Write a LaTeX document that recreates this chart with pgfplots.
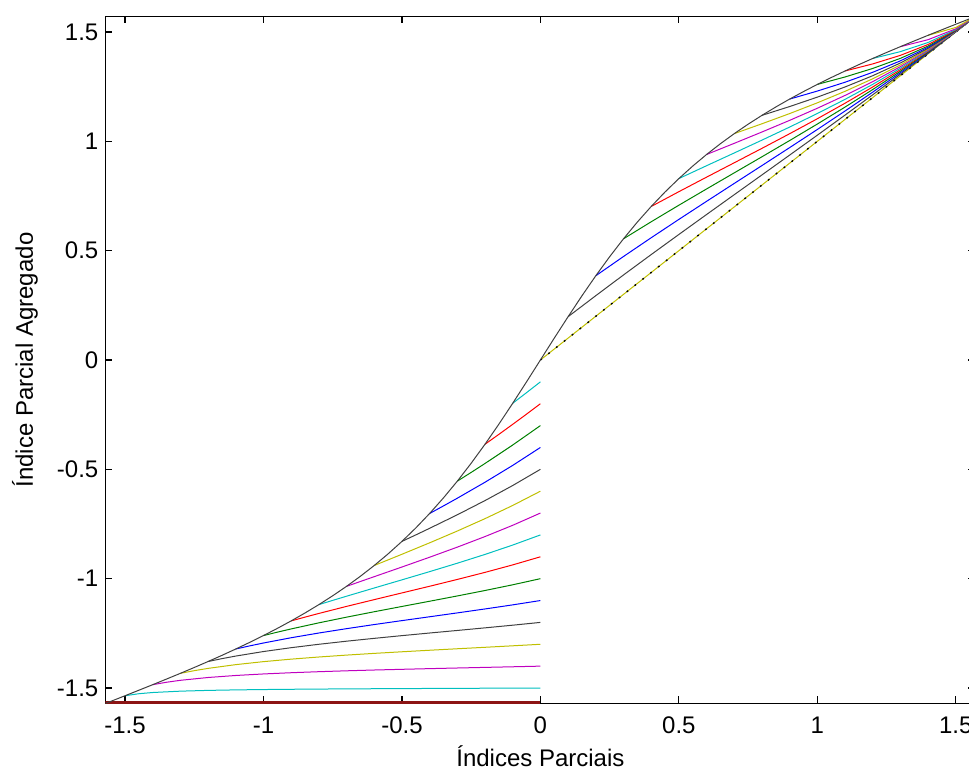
\documentclass[border=0pt]{standalone}
\usepackage{fontspec}
\setmainfont{Liberation Sans}
\usepackage{pgfplots}
\pgfplotsset{compat=1.18}
\usetikzlibrary{calc}
% MATLAB default line colours
\definecolor{mb}{rgb}{0,0,1}
\definecolor{mg}{rgb}{0,0.5,0}
\definecolor{mr}{rgb}{1,0,0}
\definecolor{mc}{rgb}{0,0.75,0.75}
\definecolor{mm}{rgb}{0.75,0,0.75}
\definecolor{my}{rgb}{0.75,0.75,0}
\definecolor{mk}{rgb}{0.25,0.25,0.25}
\definecolor{mdr}{rgb}{0.55,0.08,0.08}
\begin{document}
\begin{tikzpicture}
\begin{axis}[
  scale only axis, width=435pt, height=343.5pt,
  xmin=-1.5708, xmax=1.5708, ymin=-1.5708, ymax=1.5708,
  xtick={-1.5,-1,-0.5,0,0.5,1,1.5},
  ytick={-1.5,-1,-0.5,0,0.5,1,1.5},
  tick align=inside, major tick length=3.5pt,
  tick style={black, line width=0.6pt},
  axis line style={line width=0.8pt},
  /pgf/number format/assume math mode=true,
  ticklabel style={font=\fontsize{12}{14}\selectfont},
  xticklabel style={yshift=-3pt},
  xlabel={Índices Parciais},
  ylabel={Índice Parcial Agregado},
  label style={font=\fontsize{12}{14}\selectfont},
  xlabel style={at={(axis description cs:0.5,-0.0764)}, anchor=center},
  ylabel style={at={(axis description cs:-0.0924,0.5)}, anchor=center},
  no markers,
  every axis plot/.append style={line width=0.5pt},
]
% left family (end values -pi/2 ... -0.1)
\addplot[mdr, line width=2.5pt] coordinates {(-1.5708,-1.5708) (0,-1.5708)};
\addplot[mc] coordinates {(-1.5,-1.5354) (-1.45,-1.5261) (-1.4,-1.5206) (-1.3,-1.5144) (-1.2,-1.5109) (-1.1,-1.5086) (-1,-1.507) (-0.9,-1.5058) (-0.8,-1.5048) (-0.7,-1.504) (-0.6,-1.5033) (-0.5,-1.5026) (-0.4,-1.5021) (-0.3,-1.5015) (-0.2,-1.501) (-0.1,-1.5005) (0,-1.5)};
\addplot[mm] coordinates {(-1.4,-1.4848) (-1.35,-1.4736) (-1.3,-1.4648) (-1.2,-1.4519) (-1.1,-1.4427) (-1,-1.4357) (-0.9,-1.4301) (-0.8,-1.4254) (-0.7,-1.4213) (-0.6,-1.4177) (-0.5,-1.4145) (-0.4,-1.4114) (-0.3,-1.4085) (-0.2,-1.4057) (-0.1,-1.4029) (0,-1.4)};
\addplot[my] coordinates {(-1.3,-1.4329) (-1.25,-1.4207) (-1.2,-1.4102) (-1.1,-1.3931) (-1,-1.3794) (-0.9,-1.368) (-0.8,-1.3582) (-0.7,-1.3495) (-0.6,-1.3416) (-0.5,-1.3343) (-0.4,-1.3273) (-0.3,-1.3205) (-0.2,-1.3138) (-0.1,-1.307) (0,-1.3)};
\addplot[mk] coordinates {(-1.2,-1.3788) (-1.15,-1.3657) (-1.1,-1.3539) (-1,-1.3332) (-0.9,-1.3156) (-0.8,-1.3) (-0.7,-1.2859) (-0.6,-1.2729) (-0.5,-1.2605) (-0.4,-1.2485) (-0.3,-1.2368) (-0.2,-1.2249) (-0.1,-1.2127) (0,-1.2)};
\addplot[mb] coordinates {(-1.1,-1.3216) (-1.05,-1.3074) (-1,-1.2942) (-0.9,-1.2701) (-0.8,-1.2485) (-0.7,-1.2286) (-0.6,-1.2098) (-0.5,-1.1918) (-0.4,-1.1742) (-0.3,-1.1565) (-0.2,-1.1385) (-0.1,-1.1198) (0,-1.1)};
\addplot[mg] coordinates {(-1,-1.2602) (-0.95,-1.2446) (-0.9,-1.2298) (-0.8,-1.202) (-0.7,-1.176) (-0.6,-1.1512) (-0.5,-1.1271) (-0.4,-1.1032) (-0.3,-1.079) (-0.2,-1.0541) (-0.1,-1.028) (0,-1)};
\addplot[mr] coordinates {(-0.9,-1.1931) (-0.85,-1.1758) (-0.8,-1.159) (-0.7,-1.1268) (-0.6,-1.0958) (-0.5,-1.0652) (-0.4,-1.0347) (-0.3,-1.0035) (-0.2,-0.9712) (-0.1,-0.937) (0,-0.9)};
\addplot[mc] coordinates {(-0.8,-1.1187) (-0.75,-1.0993) (-0.7,-1.0802) (-0.6,-1.0426) (-0.5,-1.0054) (-0.4,-0.9678) (-0.3,-0.9293) (-0.2,-0.8891) (-0.1,-0.8463) (0,-0.8)};
\addplot[mm] coordinates {(-0.7,-1.0351) (-0.65,-1.0129) (-0.6,-0.9908) (-0.5,-0.9467) (-0.4,-0.9019) (-0.3,-0.8558) (-0.2,-0.8074) (-0.1,-0.7559) (0,-0.7)};
\addplot[my] coordinates {(-0.6,-0.9397) (-0.55,-0.9141) (-0.5,-0.8884) (-0.4,-0.8361) (-0.3,-0.7821) (-0.2,-0.7255) (-0.1,-0.6652) (0,-0.6)};
\addplot[mk] coordinates {(-0.5,-0.8296) (-0.45,-0.7999) (-0.4,-0.7697) (-0.3,-0.7078) (-0.2,-0.6429) (-0.1,-0.574) (0,-0.5)};
\addplot[mb] coordinates {(-0.4,-0.7019) (-0.35,-0.6673) (-0.3,-0.632) (-0.2,-0.559) (-0.1,-0.482) (0,-0.4)};
\addplot[mg] coordinates {(-0.3,-0.5541) (-0.25,-0.5141) (-0.2,-0.4732) (-0.1,-0.3888) (0,-0.3)};
\addplot[mr] coordinates {(-0.2,-0.3852) (-0.15,-0.3401) (-0.1,-0.2942) (-0.05,-0.2476) (0,-0.2)};
\addplot[mc] coordinates {(-0.1,-0.198) (-0.05,-0.1493) (0,-0.1)};
% right family (start values 0 ... 1.4)
\addplot[my] coordinates {(0,0) (1.5708,1.5708)};
\addplot[black, line width=0.7pt, dash pattern=on 0.9pt off 4.1pt] coordinates {(0,0) (1.5708,1.5708)};
\addplot[mk] coordinates {(0.1,0.198) (0.2,0.2942) (0.3,0.3888) (0.4,0.482) (0.5,0.574) (0.6,0.6652) (0.7,0.7559) (0.8,0.8463) (0.9,0.937) (1,1.028) (1.1,1.1198) (1.2,1.2127) (1.3,1.307) (1.4,1.4029) (1.5,1.5005) (1.5708,1.5708)};
\addplot[mb] coordinates {(0.2,0.3852) (0.3,0.4732) (0.4,0.559) (0.5,0.6429) (0.6,0.7255) (0.7,0.8074) (0.8,0.8891) (0.9,0.9712) (1,1.0541) (1.1,1.1385) (1.2,1.2249) (1.3,1.3138) (1.4,1.4057) (1.5,1.501) (1.5708,1.5708)};
\addplot[mg] coordinates {(0.3,0.5541) (0.4,0.632) (0.5,0.7078) (0.6,0.7821) (0.7,0.8558) (0.8,0.9293) (0.9,1.0035) (1,1.079) (1.1,1.1565) (1.2,1.2368) (1.3,1.3205) (1.4,1.4085) (1.5,1.5015) (1.5708,1.5708)};
\addplot[mr] coordinates {(0.4,0.7019) (0.5,0.7697) (0.6,0.8361) (0.7,0.9019) (0.8,0.9678) (0.9,1.0347) (1,1.1032) (1.1,1.1742) (1.2,1.2485) (1.3,1.3273) (1.4,1.4114) (1.5,1.5021) (1.5708,1.5708)};
\addplot[mc] coordinates {(0.5,0.8296) (0.6,0.8884) (0.7,0.9467) (0.8,1.0054) (0.9,1.0652) (1,1.1271) (1.1,1.1918) (1.2,1.2605) (1.3,1.3343) (1.4,1.4145) (1.5,1.5026) (1.5708,1.5708)};
\addplot[mm] coordinates {(0.6,0.9397) (0.7,0.9908) (0.8,1.0426) (0.9,1.0958) (1,1.1512) (1.1,1.2098) (1.2,1.2729) (1.3,1.3416) (1.4,1.4177) (1.5,1.5033) (1.5708,1.5708)};
\addplot[my] coordinates {(0.7,1.0351) (0.8,1.0802) (0.9,1.1268) (1,1.176) (1.1,1.2286) (1.2,1.2859) (1.3,1.3495) (1.4,1.4213) (1.5,1.504) (1.5708,1.5708)};
\addplot[mk] coordinates {(0.8,1.1187) (0.9,1.159) (1,1.202) (1.1,1.2485) (1.2,1.3) (1.3,1.3582) (1.4,1.4254) (1.5,1.5048) (1.5708,1.5708)};
\addplot[mb] coordinates {(0.9,1.1931) (1,1.2298) (1.1,1.2701) (1.2,1.3156) (1.3,1.368) (1.4,1.4301) (1.5,1.5058) (1.5708,1.5708)};
\addplot[mg] coordinates {(1,1.2602) (1.1,1.2942) (1.2,1.3332) (1.3,1.3794) (1.4,1.4357) (1.5,1.507) (1.5708,1.5708)};
\addplot[mr] coordinates {(1.1,1.3216) (1.2,1.3539) (1.3,1.3931) (1.4,1.4427) (1.5,1.5086) (1.5708,1.5708)};
\addplot[mc] coordinates {(1.2,1.3788) (1.3,1.4102) (1.4,1.4519) (1.5,1.5109) (1.5708,1.5708)};
\addplot[mm] coordinates {(1.3,1.4329) (1.4,1.4648) (1.5,1.5144) (1.5708,1.5708)};
\addplot[my] coordinates {(1.4,1.4848) (1.5,1.5206) (1.5708,1.5708)};
% upper envelope, drawn last
\addplot[mk] coordinates {(-1.5708,-1.5708) (-1.55,-1.5604) (-1.5,-1.5354) (-1.45,-1.5102) (-1.4,-1.4848) (-1.35,-1.459) (-1.3,-1.4329) (-1.25,-1.4062) (-1.2,-1.3788) (-1.15,-1.3507) (-1.1,-1.3216) (-1.05,-1.2915) (-1,-1.2602) (-0.95,-1.2274) (-0.9,-1.1931) (-0.85,-1.1569) (-0.8,-1.1187) (-0.75,-1.0782) (-0.7,-1.0351) (-0.65,-0.989) (-0.6,-0.9397) (-0.55,-0.8867) (-0.5,-0.8296) (-0.45,-0.7682) (-0.4,-0.7019) (-0.35,-0.6306) (-0.3,-0.5541) (-0.25,-0.4722) (-0.2,-0.3852) (-0.15,-0.2935) (-0.1,-0.198) (-0.05,-0.0998) (0,0)
 (0.05,0.0998) (0.1,0.198) (0.15,0.2935) (0.2,0.3852) (0.25,0.4722) (0.3,0.5541) (0.35,0.6306) (0.4,0.7019) (0.45,0.7682) (0.5,0.8296) (0.55,0.8867) (0.6,0.9397) (0.65,0.989) (0.7,1.0351) (0.75,1.0782) (0.8,1.1187) (0.85,1.1569) (0.9,1.1931) (0.95,1.2274) (1,1.2602) (1.05,1.2915) (1.1,1.3216) (1.15,1.3507) (1.2,1.3788) (1.25,1.4062) (1.3,1.4329) (1.35,1.459) (1.4,1.4848) (1.45,1.5102) (1.5,1.5354) (1.55,1.5604) (1.5708,1.5708)};
\coordinate (ll) at (rel axis cs:0,0);
\end{axis}
% the reference is cut just short of the right frame
\pgfresetboundingbox
\path ($(ll)+(-52.7pt,-32.75pt)$) rectangle ($(ll)+(431.8pt,351.75pt)$);
\end{tikzpicture}
\end{document}
